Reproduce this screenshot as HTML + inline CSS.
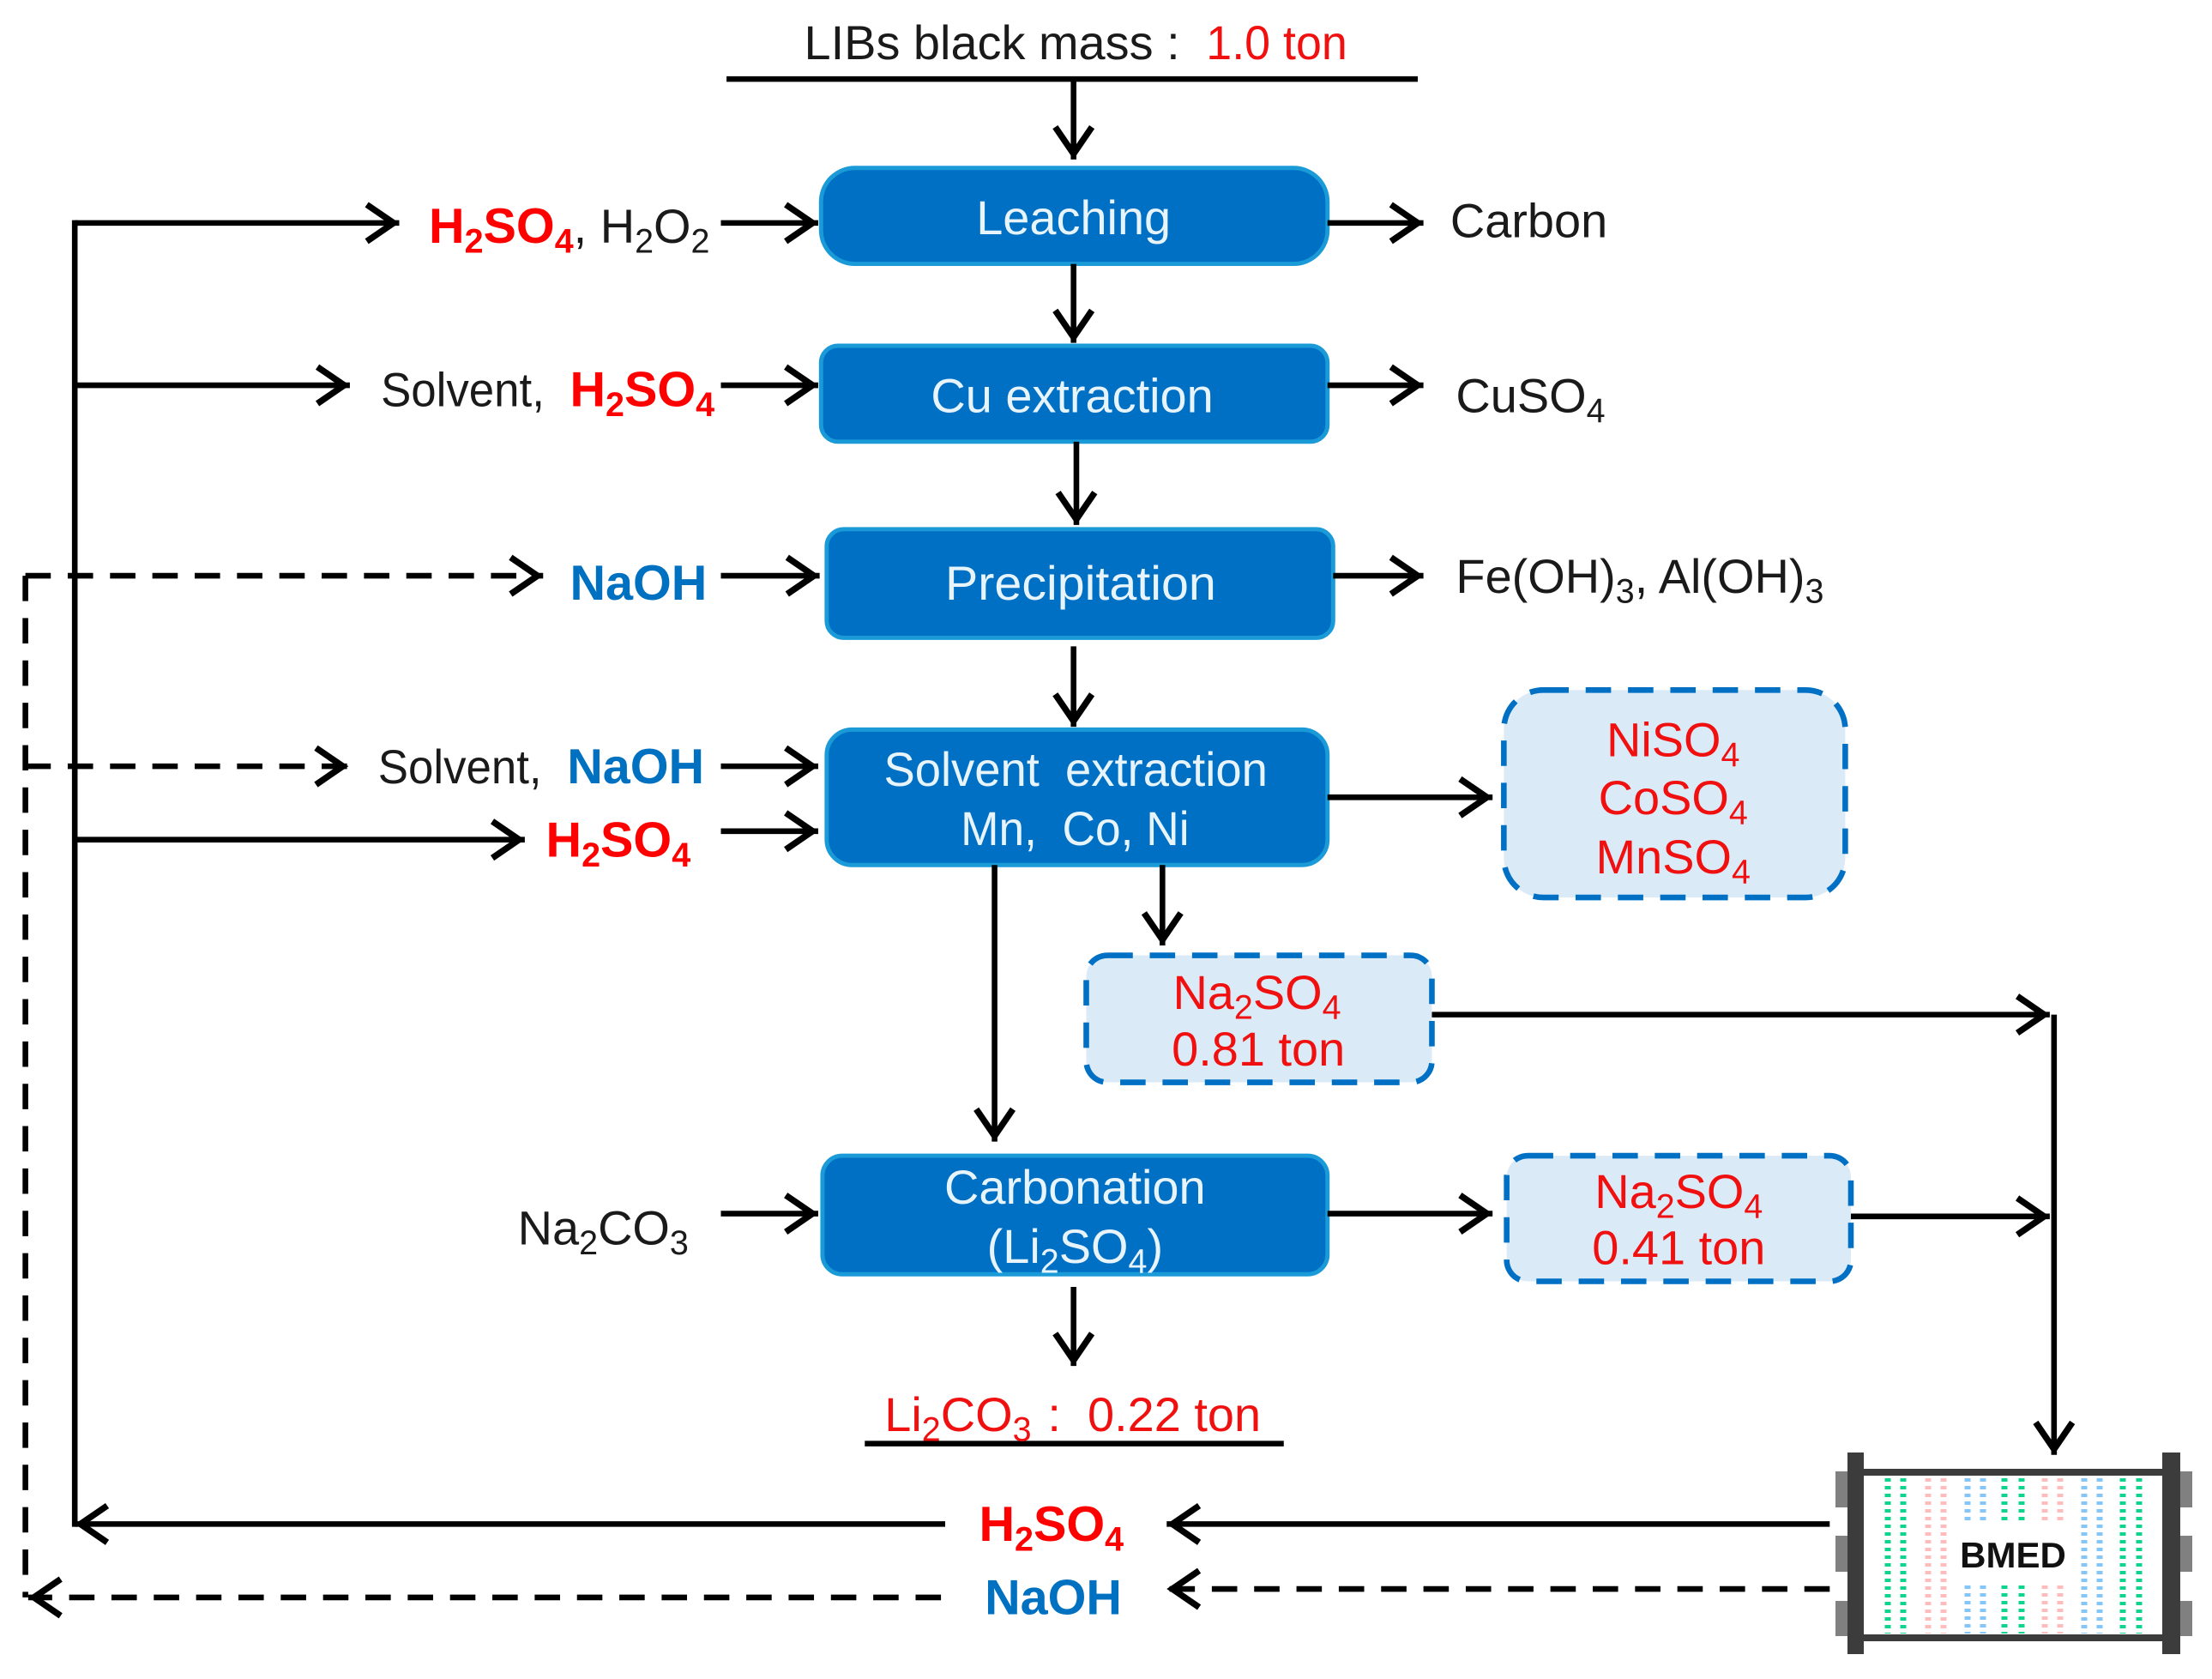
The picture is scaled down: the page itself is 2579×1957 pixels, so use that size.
<!DOCTYPE html>
<html><head><meta charset="utf-8"><title>BMED process</title>
<style>
html,body{margin:0;padding:0;background:#fff}
svg{display:block}
text{font-family:"Liberation Sans",Arial,sans-serif;font-size:34px;fill:#1a1a1a}
.b{font-weight:bold;font-size:35px}
.r{fill:#f01010}
.rb{fill:#ff0000;font-weight:bold;font-size:35px}
.bl{fill:#0070c0;font-weight:bold;font-size:35px}
.w{fill:#e8f4fc;text-anchor:middle}
.c{text-anchor:middle}
.box{fill:#0070c5;stroke:#1b9ad8;stroke-width:3}
.dbox{fill:#dbeaf7;stroke:#0070c5;stroke-width:4;stroke-dasharray:18 12}
.a{stroke:#000;stroke-width:4;fill:none;marker-end:url(#h)}
.l{stroke:#000;stroke-width:4;fill:none}
.d{stroke:#000;stroke-width:4;fill:none;stroke-dasharray:18 12}
.da{stroke:#000;stroke-width:4;fill:none;stroke-dasharray:18 12;marker-end:url(#h)}
</style></head><body>
<svg xmlns="http://www.w3.org/2000/svg" width="2579" height="1957" viewBox="0 0 2579 1957">
<defs>
<marker id="h" markerUnits="userSpaceOnUse" markerWidth="60" markerHeight="60" refX="47" refY="30" orient="auto" overflow="visible">
<path d="M24,17 L43,30 L24,43" fill="none" stroke="#000" stroke-width="4.5"/>
</marker>
</defs>
<rect width="2579" height="1957" fill="#fff"/>
<g transform="scale(1.6448)">
<!-- boxes -->
<rect class="box" x="582" y="119" width="359" height="68" rx="24"/>
<rect class="box" x="582" y="245" width="359" height="68" rx="12"/>
<rect class="box" x="586" y="375" width="359" height="77" rx="12"/>
<rect class="box" x="586" y="517" width="355" height="96" rx="18"/>
<rect class="box" x="583" y="819" width="358" height="84" rx="14"/>
<rect class="dbox" x="1066" y="489" width="242" height="147" rx="28"/>
<rect class="dbox" x="770" y="677" width="245" height="90" rx="15"/>
<rect class="dbox" x="1068" y="819" width="244" height="89" rx="15"/>
<!-- solid lines -->
<path class="l" d="M515,56H1005"/>
<path class="l" d="M613,1023H910"/>
<path class="l" d="M53,156V1082"/>
<path class="a" d="M761,56V113"/>
<path class="a" d="M53,158H283"/>
<path class="a" d="M53,273H248"/>
<path class="a" d="M53,595H372"/>
<path class="a" d="M511,158H580"/>
<path class="a" d="M511,273H580"/>
<path class="a" d="M511,408H581"/>
<path class="a" d="M511,543H580"/>
<path class="a" d="M511,589H580"/>
<path class="a" d="M511,860H580"/>
<path class="a" d="M941,158H1009"/>
<path class="a" d="M941,273H1009"/>
<path class="a" d="M945,408H1009"/>
<path class="a" d="M941,565H1058"/>
<path class="a" d="M941,860H1058"/>
<path class="a" d="M1015,719H1453"/>
<path class="a" d="M1312,862H1453"/>
<path class="a" d="M761,187V243"/>
<path class="a" d="M763,313V372"/>
<path class="a" d="M761,458V515"/>
<path class="a" d="M824,613V670"/>
<path class="a" d="M705,613V809"/>
<path class="a" d="M761,912V968"/>
<path class="a" d="M1456,719V1031"/>
<path class="a" d="M1297,1080H827"/>
<path class="a" d="M670,1080H53"/>
<!-- dashed lines -->
<path class="d" d="M18,408V1132"/>
<path class="da" d="M18,408H385"/>
<path class="da" d="M18,543H247"/>
<path class="da" d="M667,1132H20"/>
<path class="da" d="M1297,1126H827"/>
<!-- text -->
<text x="570" y="42">LIBs black mass :</text>
<text class="r" x="855" y="42" textLength="100" lengthAdjust="spacingAndGlyphs">1.0 ton</text>
<text class="w" x="761" y="166">Leaching</text>
<text class="w" x="760" y="292">Cu extraction</text>
<text class="w" x="766" y="425" textLength="192" lengthAdjust="spacingAndGlyphs">Precipitation</text>
<text class="w" x="762.5" y="557" xml:space="preserve" textLength="272" lengthAdjust="spacingAndGlyphs">Solvent  extraction</text>
<text class="w" x="762" y="599" xml:space="preserve" textLength="162" lengthAdjust="spacingAndGlyphs">Mn,  Co, Ni</text>
<text class="w" x="762" y="853">Carbonation</text>
<text class="w" x="762" y="895">(Li<tspan font-size="24" dy="7">2</tspan><tspan dy="-7">SO</tspan><tspan font-size="24" dy="7">4</tspan><tspan dy="-7">)</tspan></text>

<text x="304" y="172"><tspan class="rb">H</tspan><tspan class="rb" style="font-size:24px" dy="7">2</tspan><tspan class="rb" dy="-7">SO</tspan><tspan class="rb" style="font-size:24px" dy="7">4</tspan><tspan dy="-7">, H</tspan><tspan font-size="24" dy="7">2</tspan><tspan dy="-7">O</tspan><tspan font-size="24" dy="7">2</tspan></text>
<text x="1028" y="168">Carbon</text>
<text x="270" y="288" textLength="116" lengthAdjust="spacingAndGlyphs">Solvent,</text>
<text x="404" y="288"><tspan class="rb">H</tspan><tspan class="rb" style="font-size:24px" dy="7">2</tspan><tspan class="rb" dy="-7">SO</tspan><tspan class="rb" style="font-size:24px" dy="7">4</tspan></text>
<text x="1032" y="292">CuSO<tspan font-size="24" dy="7">4</tspan></text>
<text class="bl" x="404" y="425">NaOH</text>
<text x="1032" y="420">Fe(OH)<tspan font-size="24" dy="7">3</tspan><tspan dy="-7">, Al(OH)</tspan><tspan font-size="24" dy="7">3</tspan></text>
<text x="268" y="555" textLength="116" lengthAdjust="spacingAndGlyphs">Solvent,</text>
<text class="bl" x="402" y="555">NaOH</text>
<text x="387" y="607"><tspan class="rb">H</tspan><tspan class="rb" style="font-size:24px" dy="7">2</tspan><tspan class="rb" dy="-7">SO</tspan><tspan class="rb" style="font-size:24px" dy="7">4</tspan></text>
<text x="367" y="882">Na<tspan font-size="24" dy="7">2</tspan><tspan dy="-7">CO</tspan><tspan font-size="24" dy="7">3</tspan></text>

<text class="c r" x="1186" y="536">NiSO<tspan font-size="24" dy="7">4</tspan></text>
<text class="c r" x="1186" y="577">CoSO<tspan font-size="24" dy="7">4</tspan></text>
<text class="c r" x="1186" y="619">MnSO<tspan font-size="24" dy="7">4</tspan></text>
<text class="c r" x="891" y="715">Na<tspan font-size="24" dy="7">2</tspan><tspan dy="-7">SO</tspan><tspan font-size="24" dy="7">4</tspan></text>
<text class="c r" x="892" y="755">0.81 ton</text>
<text class="c r" x="1190" y="856">Na<tspan font-size="24" dy="7">2</tspan><tspan dy="-7">SO</tspan><tspan font-size="24" dy="7">4</tspan></text>
<text class="c r" x="1190" y="896">0.41 ton</text>
<text class="r" x="627" y="1014" xml:space="preserve">Li<tspan font-size="24" dy="7">2</tspan><tspan dy="-7">CO</tspan><tspan font-size="24" dy="7">3</tspan><tspan dy="-7" dx="2"> :  0.22 ton</tspan></text>
<text x="694" y="1092"><tspan class="rb">H</tspan><tspan class="rb" style="font-size:24px" dy="7">2</tspan><tspan class="rb" dy="-7">SO</tspan><tspan class="rb" style="font-size:24px" dy="7">4</tspan></text>
<text class="bl" x="698" y="1144">NaOH</text>
</g>
<!-- BMED stack, full-size coordinates -->
<g>
<g fill="#808080">
<rect x="2140" y="1715" width="14" height="42"/><rect x="2140" y="1790" width="14" height="42"/><rect x="2140" y="1866" width="14" height="41"/>
<rect x="2541" y="1715" width="15" height="42"/><rect x="2541" y="1790" width="15" height="42"/><rect x="2541" y="1866" width="15" height="41"/>
</g>
<g stroke-width="7" stroke-dasharray="4 5" fill="none">
<path stroke="#0fd48e" d="M2201,1723V1904M2219,1723V1904M2475,1723V1904M2494,1723V1904"/>
<path stroke="#ffbcbc" d="M2248,1723V1904M2266,1723V1904"/>
<path stroke="#84c6f7" d="M2430,1723V1904M2448,1723V1904"/>
<path stroke="#84c6f7" d="M2294,1723V1772M2312,1723V1772M2294,1848V1904M2312,1848V1904"/>
<path stroke="#0fd48e" d="M2337,1723V1772M2357,1723V1772M2337,1848V1904M2357,1848V1904"/>
<path stroke="#ffbcbc" d="M2384,1723V1772M2402,1723V1772M2384,1848V1904M2402,1848V1904"/>
</g>
<g fill="#3c3c3c">
<rect x="2170" y="1712" width="355" height="8"/>
<rect x="2170" y="1905" width="355" height="8"/>
<rect x="2154" y="1693" width="19" height="235"/>
<rect x="2521" y="1693" width="21" height="235"/>
</g>
<text x="2347" y="1827" text-anchor="middle" style="font-size:42px;font-weight:bold;fill:#111">BMED</text>
</g>
</svg>
</body></html>
